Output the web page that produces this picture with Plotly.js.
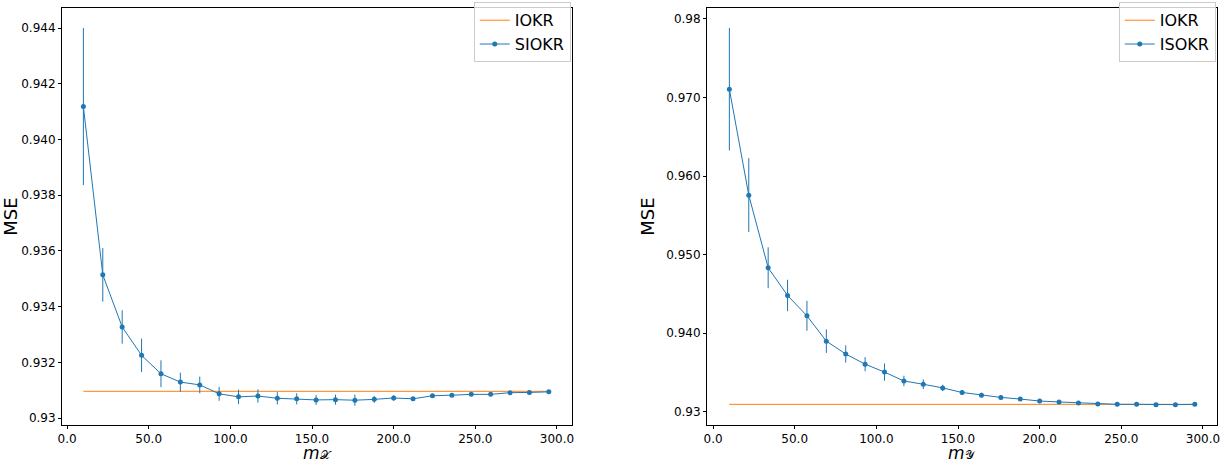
<!DOCTYPE html>
<html><head><script src="https://cdn.plot.ly/plotly-3.0.1.min.js"></script></head>
<body style="margin:0"><div id="g" style="width:1231px;height:465px"></div>
<script>
const xs = Array.from({length:25},(_,i)=>10+11.875*i);
const leftY = [0.94118,0.93514,0.93327,0.93225,0.93159,0.93129,0.93119,0.93087,0.93076,0.93079,0.93071,0.93069,0.93065,0.93066,0.93064,0.93067,0.93072,0.93069,0.9308,0.93082,0.93085,0.93085,0.93091,0.93092,0.93094];
const leftErr = [0.00282,0.00096,0.0006,0.0006,0.00048,0.00034,0.0003,0.00025,0.00026,0.00024,0.00022,0.0002,0.00018,0.00018,0.0002,0.00012,0.0001,0.00007,0.00006,0.00006,0.00005,0.00005,0.00004,0.00004,0.00004];
const leftBase = 0.93096;
const rightY = [0.97105,0.95757,0.94833,0.94481,0.94222,0.939,0.93736,0.93607,0.93506,0.93393,0.93351,0.93305,0.93247,0.93213,0.93184,0.93163,0.93138,0.93126,0.93113,0.931,0.93096,0.93096,0.93092,0.93092,0.93096];
const rightErr = [0.0078,0.0047,0.0026,0.002,0.0019,0.0015,0.0011,0.0009,0.0011,0.00067,0.0006,0.0004,0.0003,0.0003,0.0003,0.0002,0.0002,0.0001,0.0001,0.0001,0.0001,0.0001,0.0001,0.0001,0.0001];
const rightBase = 0.93096;
const xTicks = [0,50,100,150,200,250,300];
const xTickText = ["0.0","50.0","100.0","150.0","200.0","250.0","300.0"];
const lyTicks = [0.930,0.932,0.934,0.936,0.938,0.940,0.942,0.944];
const lyText = ["0.93","0.932","0.934","0.936","0.938","0.940","0.942","0.944"];
const ryTicks = [0.93,0.94,0.95,0.96,0.97,0.98];
const ryText = ["0.93","0.940","0.950","0.960","0.970","0.98"];
const blue='#1f77b4', orange='#ff7f0e';
const F = "DejaVu Sans, sans-serif";
function traces(y,err,base,name,xa,ya,lg){
  return [
   {x:[xs[0],xs[xs.length-1]],y:[base,base],mode:'lines',line:{color:orange,width:1},name:'IOKR',xaxis:xa,yaxis:ya,legend:lg},
   {x:xs,y:y,mode:'lines+markers',line:{color:blue,width:1},marker:{color:blue,size:5},
    error_y:{type:'data',array:err,color:blue,thickness:1,width:0},name:name,xaxis:xa,yaxis:ya,legend:lg}
  ];
}
const data=[...traces(leftY,leftErr,leftBase,'SIOKR','x','y','legend'),...traces(rightY,rightErr,rightBase,'ISOKR','x2','y2','legend2')];
const ax = {showgrid:false,zeroline:false,showline:true,mirror:true,linecolor:'#000',linewidth:1,ticks:'outside',ticklen:3,tickcolor:'#000',tickfont:{size:12,family:F,color:'#000'},automargin:false};
const leg = {font:{size:16,family:F,color:'#000'},bordercolor:'#ccc',borderwidth:1,bgcolor:'rgba(255,255,255,0.8)',xanchor:'right',yanchor:'top',itemwidth:30,tracegroupgap:0};
const xt = (t,xa)=>({text:t,xref:xa+' domain',x:0.5,yref:'paper',y:0,yanchor:'bottom',yshift:0,showarrow:false,font:{size:17,family:F,color:'#000'}});
const layout={
 margin:{l:0,r:0,t:0,b:0},paper_bgcolor:'#fff',plot_bgcolor:'#fff',showlegend:true,font:{family:F},
 xaxis:{...ax,domain:[62/1231,572/1231],range:[-3.1,309.2],tickvals:xTicks,ticktext:xTickText,anchor:'y'},
 yaxis:{...ax,domain:[1-425/465,1-8/465],range:[0.92975,0.94472],tickvals:lyTicks,ticktext:lyText,anchor:'x',title:{text:'MSE',font:{size:18,family:F,color:'#000'},standoff:6}},
 xaxis2:{...ax,domain:[707/1231,1217/1231],range:[-3.7,308.6],tickvals:xTicks,ticktext:xTickText,anchor:'y2'},
 yaxis2:{...ax,domain:[1-425/465,1-8/465],range:[0.92833,0.98138],tickvals:ryTicks,ticktext:ryText,anchor:'x2',title:{text:'MSE',font:{size:18,family:F,color:'#000'},standoff:6}},
 annotations:[xt('<i>m</i><span style="font-size:12px">𝒳</span>','x'),xt('<i>m</i><span style="font-size:12px">𝒴</span>','x2')],
 legend:{...leg,x:572/1231-0.001,y:0.995},
 legend2:{...leg,x:1217/1231-0.001,y:0.995}
};
Plotly.newPlot('g',data,layout,{displayModeBar:false});
</script></body></html>
